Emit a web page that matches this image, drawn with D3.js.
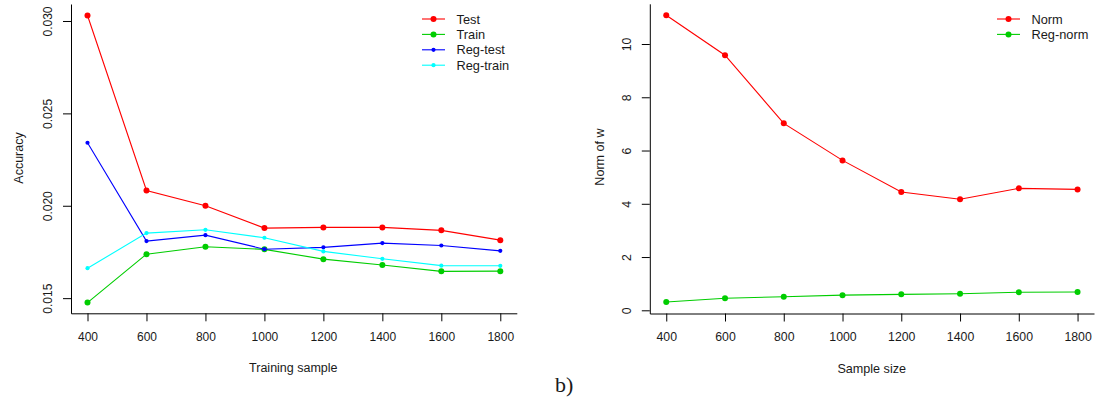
<!DOCTYPE html>
<html>
<head>
<meta charset="utf-8">
<script src="https://cdn.jsdelivr.net/npm/d3@7"></script>
<style>
  body { margin: 0; background: #fff; }
  svg { display: block; font-family: "Liberation Sans", Arial, sans-serif; }
  .axis path, .axis line { stroke: #000; stroke-width: 1; }
  .axis text { fill: #1a1a1a; }
</style>
</head>
<body>
<svg id="vis" width="1104" height="397"></svg>
<script>
// sample sizes on the x axis
var samples = [400, 600, 800, 1000, 1200, 1400, 1600, 1800];

// left panel: accuracy curves
var testAcc     = [0.0303, 0.02083, 0.0200, 0.01879, 0.01883, 0.01883, 0.01867, 0.01814];
var trainAcc    = [0.01476, 0.01738, 0.01778, 0.01764, 0.01711, 0.01679, 0.01645, 0.01646];
var regTestAcc  = [0.02341, 0.01809, 0.01841, 0.01765, 0.01775, 0.01798, 0.01785, 0.01756];
var regTrainAcc = [0.01662, 0.01852, 0.0187, 0.01827, 0.01753, 0.01713, 0.01676, 0.01675];
var accTicks = [0.015, 0.020, 0.025, 0.030];

// right panel: norm of w
var normW    = [11.08, 9.58, 7.02, 5.63, 4.44, 4.17, 4.58, 4.54];
var regNormW = [0.31, 0.45, 0.51, 0.57, 0.60, 0.62, 0.68, 0.69];
var normTicks = [0, 2, 4, 6, 8, 10];

var svg = d3.select("#vis");

// draws one R-style panel (bty="l")
function panel(opt) {
  var x = d3.scaleLinear().domain([344, 1856]).range(opt.xRange),
      y = d3.scaleLinear().domain(opt.yDomain).range(opt.yRange);
  var g = svg.append("g");

  // x axis
  g.append("g")
      .attr("class", "axis")
      .attr("transform", "translate(0," + opt.yRange[0] + ")")
      .call(d3.axisBottom(x).tickValues(samples).tickFormat(d3.format("d"))
        .tickSize(8).tickSizeOuter(0).tickPadding(11))
      .style("font-size", opt.tickFont + "px")
      .attr("font-family", null);

  // y axis, labels turned like R's las=0
  var ya = g.append("g")
      .attr("class", "axis")
      .attr("transform", "translate(" + opt.xRange[0] + ",0)")
      .call(d3.axisLeft(y).tickValues(opt.yTicks).tickFormat(opt.yFormat).tickSize(8).tickSizeOuter(0))
      .style("font-size", opt.tickFont + "px")
      .attr("font-family", null);
  ya.selectAll("text")
      .attr("x", 0).attr("dy", 0)
      .attr("text-anchor", "middle")
      .attr("transform", "translate(" + (-opt.yLabOff) + ",0) rotate(-90)");

  // axis titles
  g.append("text")
      .attr("x", opt.xTitle[0]).attr("y", opt.xTitle[1])
      .attr("text-anchor", "middle")
      .style("font-size", opt.titleFont + "px")
      .attr("fill", "#1a1a1a")
      .text(opt.xLabel);
  g.append("text")
      .attr("transform", "translate(" + opt.yTitle[0] + "," + opt.yTitle[1] + ") rotate(-90)")
      .attr("text-anchor", "middle")
      .style("font-size", opt.titleFont + "px")
      .attr("fill", "#1a1a1a")
      .text(opt.yLabel);

  var line = d3.line()
      .x(function(d, i) { return x(samples[i]); })
      .y(function(d) { return y(d); });

  opt.series.forEach(function(s) {
    g.append("path")
      .datum(s.values)
      .attr("d", line)
      .attr("fill", "none")
      .attr("stroke", s.color)
      .attr("stroke-width", 1.1);
    g.selectAll(null)
      .data(s.values)
      .enter().append("circle")
      .attr("cx", function(d, i) { return x(samples[i]); })
      .attr("cy", function(d) { return y(d); })
      .attr("r", s.r)
      .attr("fill", s.color);
  });

  // legend
  var leg = g.append("g");
  opt.series.forEach(function(s, i) {
    var ly = opt.legend.y + i * 15.4;
    leg.append("line")
      .attr("x1", opt.legend.x).attr("x2", opt.legend.x + 23)
      .attr("y1", ly).attr("y2", ly)
      .attr("stroke", s.color).attr("stroke-width", 1.1);
    leg.append("circle")
      .attr("cx", opt.legend.x + 11.5).attr("cy", ly)
      .attr("r", s.r).attr("fill", s.color);
    leg.append("text")
      .attr("x", opt.legend.x + 34.5).attr("y", ly)
      .attr("dy", "0.36em")
      .style("font-size", opt.legendFont + "px")
      .attr("fill", "#1a1a1a")
      .text(s.name);
  });
}

panel({
  xRange: [71, 516.8],
  yDomain: [0.01418, 0.03092],
  yRange: [313.3, 4],
  yTicks: accTicks,
  yFormat: d3.format(".3f"),
  yLabOff: 19.4,
  tickFont: 12,
  titleFont: 12.5,
  legendFont: 12.8,
  xLabel: "Training sample",
  yLabel: "Accuracy",
  xTitle: [293.3, 371.5],
  yTitle: [22.5, 158],
  legend: { x: 422, y: 19 },
  series: [
    { name: "Test", values: testAcc, color: "#ff0000", r: 3 },
    { name: "Train", values: trainAcc, color: "#00cd00", r: 3 },
    { name: "Reg-test", values: regTestAcc, color: "#0000ff", r: 2.1 },
    { name: "Reg-train", values: regTrainAcc, color: "#00ffff", r: 2.1 }
  ]
});

panel({
  xRange: [649.8, 1094],
  yDomain: [-0.12, 11.51],
  yRange: [313.5, 3.8],
  yTicks: normTicks,
  yFormat: d3.format("d"),
  yLabOff: 18.6,
  tickFont: 12.3,
  titleFont: 12.6,
  legendFont: 12.8,
  xLabel: "Sample size",
  yLabel: "Norm of w",
  xTitle: [871.7, 372.6],
  yTitle: [604, 157],
  legend: { x: 997, y: 19 },
  series: [
    { name: "Norm", values: normW, color: "#ff0000", r: 3 },
    { name: "Reg-norm", values: regNormW, color: "#00cd00", r: 3 }
  ]
});

// panel tag under the figure
svg.append("text")
  .attr("x", 555).attr("y", 391.5)
  .style("font-family", "'Liberation Serif', 'DejaVu Serif', serif")
  .style("font-size", "22px")
  .attr("fill", "#1a1a1a")
  .text("b)");
</script>
</body>
</html>
